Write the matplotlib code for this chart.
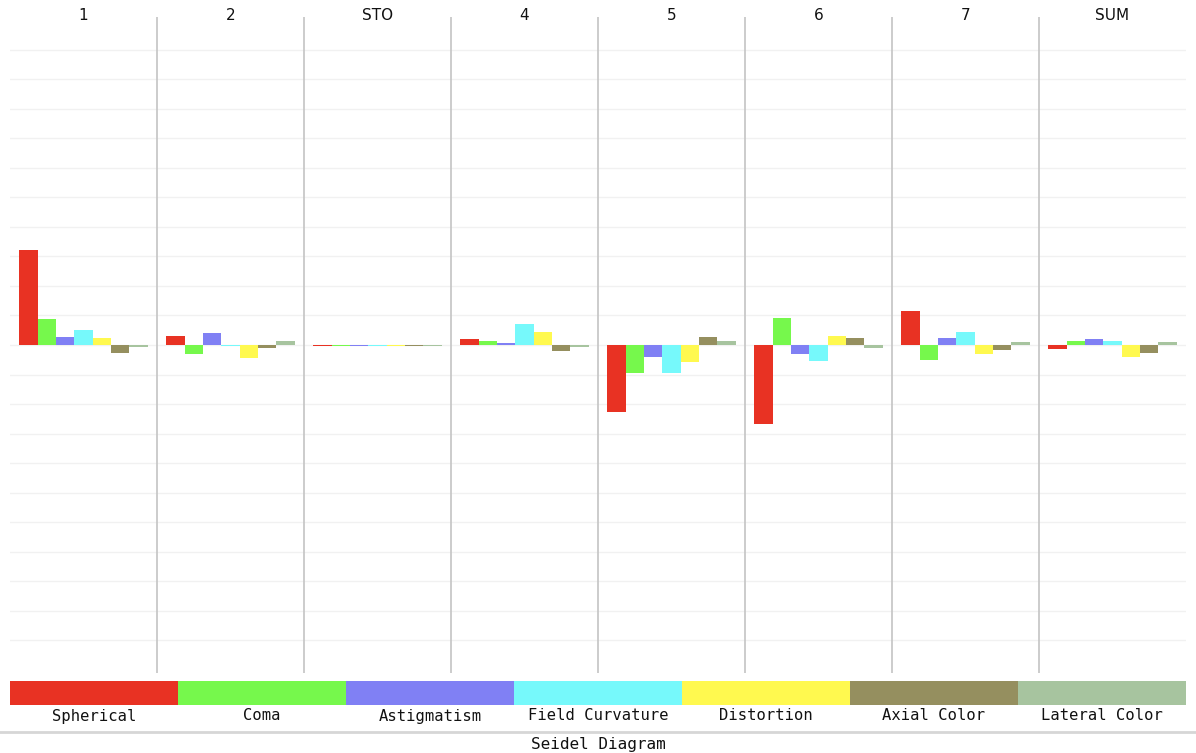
# Seidel diagram: aberration contributions per surface

import matplotlib
matplotlib.use('Agg')
import matplotlib.pyplot as plt
from matplotlib.transforms import blended_transform_factory
import numpy as np

# data (units = grid divisions)
surfaces = ['1', '2', 'STO', '4', '5', '6', '7', 'SUM']
aberrations = ['Spherical', 'Coma', 'Astigmatism', 'Field Curvature',
               'Distortion', 'Axial Color', 'Lateral Color']
spherical = [3.2, 0.29, -0.04, 0.2, -2.27, -2.68, 1.15, -0.15]
coma = [0.88, -0.31, -0.04, 0.13, -0.96, 0.92, -0.5, 0.13]
astigmatism = [0.26, 0.4, -0.04, 0.07, -0.4, -0.32, 0.23, 0.19]
field_curv = [0.52, -0.04, -0.04, 0.72, -0.96, -0.55, 0.45, 0.13]
distortion = [0.24, -0.44, -0.04, 0.43, -0.58, 0.3, -0.29, -0.39]
axial_color = [-0.28, -0.1, -0.04, -0.2, 0.28, 0.22, -0.18, -0.26]
lateral_color = [-0.06, 0.14, -0.04, -0.08, 0.13, -0.1, 0.1, 0.1]

series = [spherical, coma, astigmatism, field_curv, distortion, axial_color, lateral_color]
colors = ['#e83223', '#76f84c', '#8080f4', '#76f9fb', '#fff94f', '#958f5f', '#a7c49f']

W, H = 1196, 753
fig = plt.figure(figsize=(W / 100, H / 100), dpi=100)

# main plot area
top, bottom = 17, 673
ax = fig.add_axes([10 / W, (H - bottom) / H, 1176 / W, (bottom - top) / H])
n = len(surfaces)
bw = 1 / 8
x = np.arange(n)
for i, (vals, c) in enumerate(zip(series, colors)):
    ax.bar(x + bw / 2 + i * bw, vals, width=bw, align='edge', color=c, linewidth=0, zorder=3)

ax.set_xlim(0, n)
ax.set_ylim(-11.1, 11.1)
ax.set_yticks(np.arange(-10, 11))
ax.yaxis.grid(True, color='#f1f1f1', linewidth=1.0, zorder=0)
ax.tick_params(left=False, bottom=False, labelleft=False, labelbottom=False)
for s in ax.spines.values():
    s.set_visible(False)
for k in range(1, n):
    ax.axvline(k, color='#c8c8c8', linewidth=1.3, zorder=2)

# surface headers
trans = blended_transform_factory(ax.transData, fig.transFigure)
for k, name in enumerate(surfaces):
    ax.text(k + 0.5, 1 - 16 / H, name, transform=trans, ha='center', va='center',
            fontsize=11, family='DejaVu Sans', color='#111111')

# colour legend strip
lax = fig.add_axes([10 / W, (H - 705) / H, 1176 / W, 24 / H])
m = len(aberrations)
lax.bar(np.arange(m), [1] * m, width=1.0, align='edge', color=colors, linewidth=0)
lax.set_xlim(0, m)
lax.set_ylim(0, 1)
lax.axis('off')
ltrans = blended_transform_factory(lax.transData, fig.transFigure)
for k, name in enumerate(aberrations):
    lax.text(k + 0.5, 1 - 716 / H, name, transform=ltrans, ha='center', va='center',
             fontsize=11.2, family='DejaVu Sans Mono', color='#111111')

# footer separator and title
fig.add_artist(plt.Line2D([0, 1], [1 - 732 / H, 1 - 732 / H], transform=fig.transFigure,
                          color='#d6d6d6', linewidth=2))
fig.text(598 / W, 1 - 752 / H, 'Seidel Diagram', ha='center', va='bottom',
         fontsize=11.5, family='DejaVu Sans Mono', color='#111111')

plt.savefig('out.png', dpi=100)
